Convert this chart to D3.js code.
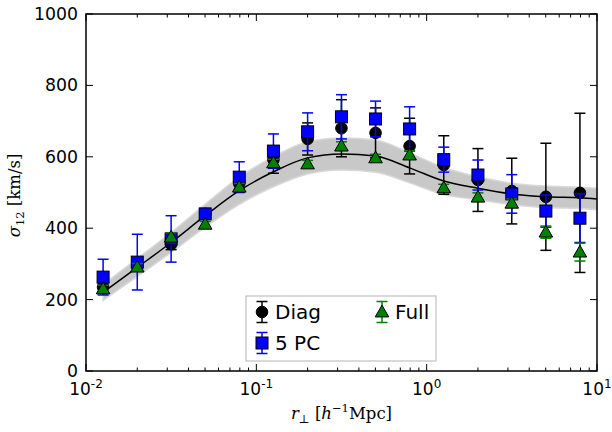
<!DOCTYPE html>
<html>
<head>
<meta charset="utf-8">
<title>sigma12</title>
<style>
  body { margin: 0; background: #fff; }
  svg text { font-family: "DejaVu Sans", sans-serif; }
  .serif { font-family: "DejaVu Serif", "Liberation Serif", serif; }
</style>
</head>
<body>
<div id="chart"></div>
<script src="https://cdn.jsdelivr.net/npm/d3@7/dist/d3.min.js"></script>
<script>

// data
var rPerp   = [0.0126, 0.02, 0.0316, 0.0501, 0.0794, 0.126, 0.2, 0.316, 0.501, 0.794, 1.26, 2.0, 3.16, 5.01, 7.94];
var diag    = [235, 295, 355, 440, 525, 592, 650, 680, 667, 630, 577, 535, 504, 488, 499];
var diagErr = [12, 12, 15, 12, 15, 38, 45, 80, 70, 78, 82, 88, 92, 150, 223];
var pc5     = [263, 305, 370, 440, 543, 616, 670, 712, 706, 678, 592, 549, 496, 448, 428];
var pc5Err  = [50, 78, 65, 15, 43, 48, 53, 62, 50, 62, 35, 42, 54, 45, 68];
var full    = [230, 291, 375, 411, 515, 583, 580, 630, 597, 605, 513, 487, 470, 389, 333];
var fullErr = [10, 10, 12, 8, 10, 10, 10, 12, 10, 12, 10, 12, 12, 17, 25];

// model curve and its band
var modelR  = [0.0126, 0.02, 0.0316, 0.0501, 0.0794, 0.126, 0.2, 0.316, 0.501, 0.794, 1.26, 2.0, 3.16, 5.01, 7.94, 10];
var model   = [220, 290, 360, 435, 505, 558, 597, 608, 602, 569, 532, 512, 496, 488, 485, 482];
var bandW   = [22, 25, 28, 32, 38, 42, 45, 45, 45, 42, 38, 32, 30, 30, 30, 30];

var xTicks = [0.01, 0.1, 1, 10];
var xTickExp = ["-2", "-1", "0", "1"];
var yTicks = [0, 200, 400, 600, 800, 1000];

var width = 612, height = 432;
var margin = {left: 86, top: 14, right: 15, bottom: 61};
var w = width - margin.left - margin.right,
    h = height - margin.top - margin.bottom;

var x = d3.scaleLog().domain([0.01, 10]).range([0, w]);
var y = d3.scaleLinear().domain([0, 1000]).range([h, 0]);

var svg = d3.select("#chart").append("svg")
    .attr("width", width)
    .attr("height", height);

var g = svg.append("g")
    .attr("transform", "translate(" + margin.left + "," + margin.top + ")");

// band
var band = d3.area()
    .x(function(d, i) { return x(modelR[i]); })
    .y0(function(d, i) { return y(model[i] - bandW[i]); })
    .y1(function(d, i) { return y(model[i] + bandW[i]); })
    .curve(d3.curveMonotoneX);

g.append("path")
    .datum(model)
    .attr("d", band)
    .attr("fill", "#c8c8c8")
    .attr("stroke", "#d8d8d8")
    .attr("stroke-width", 1.5);

var line = d3.line()
    .x(function(d, i) { return x(modelR[i]); })
    .y(function(d) { return y(d); })
    .curve(d3.curveMonotoneX);

g.append("path")
    .datum(model)
    .attr("d", line)
    .attr("fill", "none")
    .attr("stroke", "#000")
    .attr("stroke-width", 1.5);

// error bar helper
function errbars(sel, cx, cy, err, color) {
    var top = y(cy + err), bot = y(cy - err), xx = x(cx);
    sel.append("line").attr("x1", xx).attr("x2", xx).attr("y1", top).attr("y2", bot)
        .attr("stroke", color).attr("stroke-width", 1.5);
    [top, bot].forEach(function(yy) {
        sel.append("line").attr("x1", xx - 5.5).attr("x2", xx + 5.5).attr("y1", yy).attr("y2", yy)
            .attr("stroke", color).attr("stroke-width", 1.5);
    });
}

var tri = d3.symbol().type(d3.symbolTriangle).size(80);

function marker(sel, kind, cx, cy) {
    if (kind === "circle") {
        sel.append("circle").attr("cx", cx).attr("cy", cy).attr("r", 5.8)
            .attr("fill", "#000").attr("stroke", "#000");
    } else if (kind === "square") {
        sel.append("rect").attr("x", cx - 6).attr("y", cy - 6).attr("width", 12).attr("height", 12)
            .attr("fill", "#0000ff").attr("stroke", "#000").attr("stroke-width", 1);
    } else {
        sel.append("path").attr("d", tri)
            .attr("transform", "translate(" + cx + "," + (cy + 1) + ")")
            .attr("fill", "#008000").attr("stroke", "#000").attr("stroke-width", 1);
    }
}

var series = [
    {vals: diag, errs: diagErr, color: "#000", kind: "circle"},
    {vals: pc5, errs: pc5Err, color: "#0000ff", kind: "square"},
    {vals: full, errs: fullErr, color: "#008000", kind: "triangle"}
];

series.forEach(function(s) {
    var sg = g.append("g");
    rPerp.forEach(function(r, i) {
        errbars(sg, r, s.vals[i], s.errs[i], s.color);
    });
    rPerp.forEach(function(r, i) {
        marker(sg, s.kind, x(r), y(s.vals[i]));
    });
});

// frame
g.append("rect").attr("width", w).attr("height", h)
    .attr("fill", "none").attr("stroke", "#000").attr("stroke-width", 1.5);

// x ticks (major + minor, inward, top and bottom)
var minor = [];
[0.01, 0.1, 1].forEach(function(d) {
    for (var k = 2; k <= 9; k++) minor.push(d * k);
});
var xt = g.append("g");
xTicks.forEach(function(t) {
    xt.append("line").attr("x1", x(t)).attr("x2", x(t)).attr("y1", h).attr("y2", h - 7).attr("stroke", "#000");
    xt.append("line").attr("x1", x(t)).attr("x2", x(t)).attr("y1", 0).attr("y2", 7).attr("stroke", "#000");
});
minor.forEach(function(t) {
    xt.append("line").attr("x1", x(t)).attr("x2", x(t)).attr("y1", h).attr("y2", h - 3.5).attr("stroke", "#000");
    xt.append("line").attr("x1", x(t)).attr("x2", x(t)).attr("y1", 0).attr("y2", 3.5).attr("stroke", "#000");
});
xTicks.forEach(function(t, i) {
    var tx = xt.append("text")
        .attr("x", x(t)).attr("y", h + 24)
        .attr("text-anchor", "middle")
        .attr("font-size", 17);
    tx.append("tspan").text("10");
    tx.append("tspan").attr("dy", -7).attr("font-size", 12).text(xTickExp[i]);
});

// y ticks
var yt = g.append("g");
yTicks.forEach(function(t) {
    yt.append("line").attr("x1", 0).attr("x2", 7).attr("y1", y(t)).attr("y2", y(t)).attr("stroke", "#000");
    yt.append("line").attr("x1", w).attr("x2", w - 7).attr("y1", y(t)).attr("y2", y(t)).attr("stroke", "#000");
    yt.append("text")
        .attr("x", -8).attr("y", y(t)).attr("dy", "0.35em")
        .attr("text-anchor", "end")
        .attr("font-size", 17.3)
        .text(t);
});

// axis labels
var yl = svg.append("text")
    .attr("class", "serif")
    .attr("transform", "translate(20," + (margin.top + h / 2 + 3) + ") rotate(-90)")
    .attr("text-anchor", "middle")
    .attr("font-size", 16.5);
yl.append("tspan").attr("font-style", "italic").text("σ");
yl.append("tspan").attr("dy", 4).attr("font-size", 11.5).text("12");
yl.append("tspan").attr("dy", -4).text(" [km/s]");

var xl = svg.append("text")
    .attr("class", "serif")
    .attr("x", margin.left + w / 2).attr("y", 419)
    .attr("text-anchor", "middle")
    .attr("font-size", 16.5);
xl.append("tspan").attr("font-style", "italic").text("r");
xl.append("tspan").attr("dy", 4).attr("font-size", 11.5).text("⊥");
xl.append("tspan").attr("dy", -4).text(" [");
xl.append("tspan").attr("font-style", "italic").text("h");
xl.append("tspan").attr("dy", -7).attr("font-size", 11.5).text("−1");
xl.append("tspan").attr("dy", 7).text("Mpc]");

// legend
var lg = svg.append("g");
lg.append("rect").attr("x", 246).attr("y", 296).attr("width", 190).attr("height", 65)
    .attr("fill", "#fff").attr("stroke", "#c0c0c0").attr("stroke-width", 1.2);
var legItems = [
    {name: "Diag", s: series[0], lx: 262, ly: 312},
    {name: "5 PC", s: series[1], lx: 262, ly: 343},
    {name: "Full", s: series[2], lx: 382, ly: 312}
];
legItems.forEach(function(it) {
    var c = it.s.color;
    lg.append("line").attr("x1", it.lx).attr("x2", it.lx).attr("y1", it.ly - 10.5).attr("y2", it.ly + 10.5)
        .attr("stroke", c).attr("stroke-width", 1.5);
    [it.ly - 10.5, it.ly + 10.5].forEach(function(yy) {
        lg.append("line").attr("x1", it.lx - 5.5).attr("x2", it.lx + 5.5).attr("y1", yy).attr("y2", yy)
            .attr("stroke", c).attr("stroke-width", 1.5);
    });
    marker(lg, it.s.kind, it.lx, it.ly);
    lg.append("text").attr("x", it.lx + 13).attr("y", it.ly).attr("dy", "0.36em")
        .attr("font-size", 20).text(it.name);
});

</script>
</body>
</html>
